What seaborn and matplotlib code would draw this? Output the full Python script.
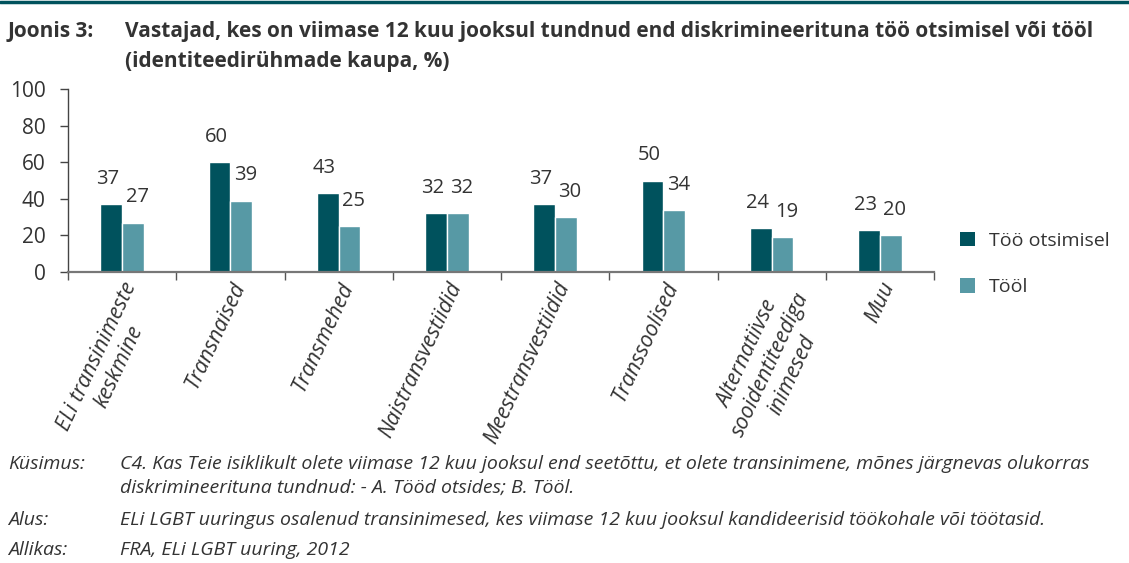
import matplotlib
matplotlib.use("Agg")
import matplotlib.pyplot as plt
import seaborn as sns
import pandas as pd
from matplotlib.patches import Patch
from matplotlib.ticker import FixedLocator
from matplotlib.transforms import ScaledTranslation

categories = ["ELi transinimeste\nkeskmine", "Transnaised", "Transmehed", "Naistransvestiidid",
              "Meestransvestiidid", "Transsoolised", "Alternatiivse\nsooidentiteediga\ninimesed", "Muu"]
series_names = ["Töö otsimisel", "Tööl"]
too_otsimisel = [37, 60, 43, 32, 37, 50, 24, 23]
tool = [27, 39, 25, 32, 30, 34, 19, 20]
y_ticks = [0, 20, 40, 60, 80, 100]

title_label = "Joonis 3:"
title_lines = ["Vastajad, kes on viimase 12 kuu jooksul tundnud end diskrimineerituna töö otsimisel või tööl",
               "(identiteedirühmade kaupa, %)"]
note_labels = ["Küsimus:", "", "Alus:", "Allikas:"]
note_lines = [
    "C4. Kas Teie isiklikult olete viimase 12 kuu jooksul end seetõttu, et olete transinimene, mõnes järgnevas olukorras",
    "diskrimineerituna tundnud: - A. Tööd otsides; B. Tööl.",
    "ELi LGBT uuringus osalenud transinimesed, kes viimase 12 kuu jooksul kandideerisid töökohale või töötasid.",
    "FRA, ELi LGBT uuring, 2012",
]

dark = "#00525D"
light = "#5799A5"
txt = "#333333"
W, H = 1129, 563

df = pd.DataFrame({
    "cat": categories * 2,
    "val": too_otsimisel + tool,
    "series": [series_names[0]] * len(categories) + [series_names[1]] * len(categories),
})

sns.set_theme(style="white")
plt.rcParams["font.family"] = ["Open Sans", "DejaVu Sans"]

fig = plt.figure(figsize=(W / 100, H / 100), dpi=100)
ax_l, ax_r, ax_b, ax_t = 68, 934, 272, 89
ax = fig.add_axes([ax_l / W, 1 - ax_b / H, (ax_r - ax_l) / W, (ax_b - ax_t) / H])

sns.barplot(data=df, x="cat", y="val", hue="series", order=categories, hue_order=series_names,
            palette=[dark, light], width=0.4, gap=0, dodge=True, saturation=1, legend=False, ax=ax)

shifts_pt = [-2.6, 3.0]
for cont, sh in zip(ax.containers, shifts_pt):
    texts = ax.bar_label(cont, padding=11, fontsize=14.5, color=txt)
    for t in texts:
        t.xyann = (sh, t.xyann[1])

ax.set_xlim(-0.5, len(categories) - 0.5)
ax.set_ylim(0, 100)
ax.set_yticks(y_ticks)
ax.set_yticklabels([str(v) for v in y_ticks], fontsize=15, color=txt)
ax.set_xlabel("")
ax.set_ylabel("")
ax.set_xticks(range(len(categories)))
ax.set_xticklabels(categories, rotation=65, ha="right", va="top", rotation_mode="anchor",
                   fontsize=15.5, style="italic", color=txt, multialignment="center")
for lab in ax.get_xticklabels():
    lab.set_transform(lab.get_transform() + ScaledTranslation(-9 / 100, 0, fig.dpi_scale_trans))
ax.xaxis.set_minor_locator(FixedLocator([i - 0.5 for i in range(len(categories) + 1)]))
ax.tick_params(axis="x", which="major", length=0, pad=5)
ax.tick_params(axis="x", which="minor", length=6, width=1, color="#555555", direction="out", bottom=True)
ax.tick_params(axis="y", length=6, width=1, color="#444444", direction="out", left=True, pad=10)
for s in ["top", "right"]:
    ax.spines[s].set_visible(False)
ax.spines["left"].set_color("#444444")
ax.spines["bottom"].set_color("#777777")
ax.spines["left"].set_linewidth(1)
ax.spines["bottom"].set_linewidth(1.6)

handles = [Patch(facecolor=dark, edgecolor="none"), Patch(facecolor=light, edgecolor="none")]
fig.legend(handles, series_names, loc="center left", bbox_to_anchor=(960 / W, 1 - 264 / H), frameon=False,
           fontsize=14, handlelength=0.78, handleheight=0.78, labelspacing=1.45, handletextpad=0.72,
           borderpad=0, borderaxespad=0, labelcolor=txt)

# top rule
fig.add_artist(plt.Line2D([0, 1], [1 - 1.5 / H, 1 - 1.5 / H], color=dark, lw=2.5, transform=fig.transFigure))

title_fonts = ["Open Sans", "DejaVu Sans"]
fig.text(8 / W, 1 - 32 / H, title_label, fontsize=15, fontweight="bold", color=txt, family=title_fonts,
         va="center")
for line, y in zip(title_lines, [32, 62]):
    fig.text(125 / W, 1 - y / H, line, fontsize=15, fontweight="bold", color=txt, family=title_fonts,
             va="center")

for lab, line, y in zip(note_labels, note_lines, [464, 488, 520, 550]):
    if lab:
        fig.text(8 / W, 1 - y / H, lab, fontsize=14, style="italic", color=txt, family=title_fonts, va="center")
    fig.text(120 / W, 1 - y / H, line, fontsize=14, style="italic", color=txt, family=title_fonts, va="center")

fig.savefig("out.png", dpi=100)
